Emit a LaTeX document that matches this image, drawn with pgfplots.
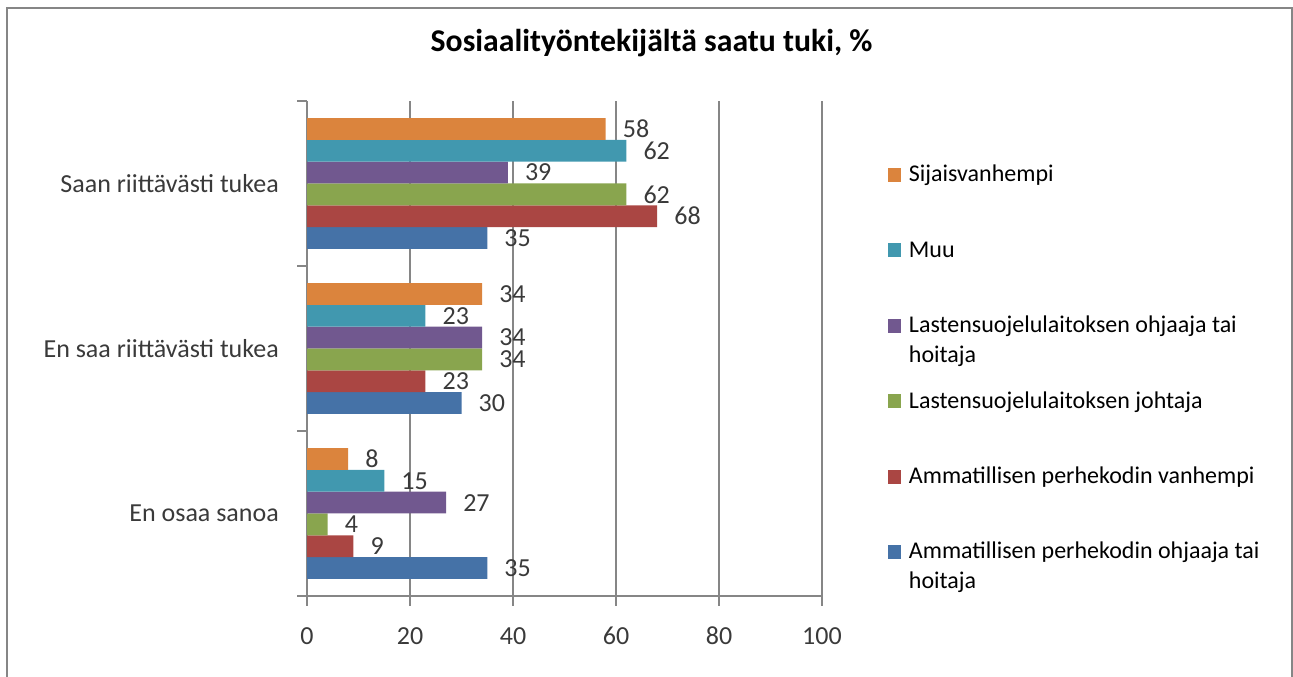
\documentclass[border=0pt]{standalone}
\usepackage{fontspec}
\setmainfont{Carlito}
\usepackage{pgfplots}
\pgfplotsset{compat=1.18}
\definecolor{cBlue}{HTML}{4572A7}
\definecolor{cRed}{HTML}{AA4643}
\definecolor{cGreen}{HTML}{89A54E}
\definecolor{cPurple}{HTML}{71588F}
\definecolor{cAqua}{HTML}{4198AF}
\definecolor{cOrange}{HTML}{DB843D}
\definecolor{axgray}{HTML}{868686}
\definecolor{labgray}{HTML}{3A3A3A}
\begin{document}
\begin{tikzpicture}[x=1pt,y=1pt]
\path[use as bounding box] (0,0) rectangle (1293,677);
\draw[color=axgray, line width=2pt] (7,-10) rectangle (1292,669);
\begin{axis}[
  at={(307pt,81pt)}, anchor=south west,
  scale only axis, width=515pt, height=495pt,
  xmin=0, xmax=100, ymin=-0.5, ymax=2.5,
  xbar, bar width=0.132,
  axis lines=left,
  axis line style={-, draw=axgray, line width=1.3pt},
  xtick={0,20,...,100},
  xmajorgrids, grid style={draw=axgray, line width=1.3pt},
  ytick={-0.5,0.5,1.5,2.5}, yticklabels={},
  extra y ticks={0,1,2},
  extra y tick labels={En osaa sanoa, En saa riittävästi tukea, Saan riittävästi tukea},
  extra y tick style={tick style={draw=none}, yticklabel style={inner sep=0pt, xshift=-18pt}},
  tick align=outside, major tick length=10pt,
  tick style={draw=axgray, line width=1.3pt},
  /pgf/number format/assume math mode=true,
  ticklabel style={font=\fontsize{26}{31}\selectfont, text=labgray},
  xticklabel style={inner sep=0pt, anchor=north, yshift=-21pt},
  point meta=x,
  nodes near coords,
  every node near coord/.append style={anchor=west, inner sep=0pt, xshift=17pt,
    font=\fontsize{26}{31}\selectfont, text=labgray},
  title={Sosiaalityöntekijältä saatu tuki, \%},
  title style={at={(0.669,1.0869)}, anchor=base, inner sep=0pt,
    font=\bfseries\fontsize{31.7}{38}\selectfont},
  reverse legend,
  legend style={at={(1.128,0.8768)}, anchor=north west, draw=none, fill=none,
    inner sep=0pt, outer sep=0pt, row sep=55.4pt, column sep=8pt,
    font=\fontsize{24}{30}\selectfont,
    cells={anchor=base west},
    nodes={inner sep=0pt, text height=20pt, text depth=0pt}},
  legend image code/.code={\fill[#1] (0pt,0pt) rectangle (13pt,14pt);},
]
\addplot[fill=cBlue, draw=none, bar shift=-0.33] coordinates {(35,2) (30,1) (35,0)};
\addlegendentry{\parbox[t]{400pt}{Ammatillisen perhekodin ohjaaja tai\\hoitaja}}
\addplot[fill=cRed, draw=none, bar shift=-0.198] coordinates {(68,2) (23,1) (9,0)};
\addlegendentry{Ammatillisen perhekodin vanhempi}
\addplot[fill=cGreen, draw=none, bar shift=-0.066] coordinates {(62,2) (34,1) (4,0)};
\addlegendentry{Lastensuojelulaitoksen johtaja}
\addplot[fill=cPurple, draw=none, bar shift=0.066] coordinates {(39,2) (34,1) (27,0)};
\addlegendentry{\parbox[t]{400pt}{Lastensuojelulaitoksen ohjaaja tai\\hoitaja}}
\addplot[fill=cAqua, draw=none, bar shift=0.198] coordinates {(62,2) (23,1) (15,0)};
\addlegendentry{Muu}
\addplot[fill=cOrange, draw=none, bar shift=0.33] coordinates {(58,2) (34,1) (8,0)};
\addlegendentry{Sijaisvanhempi}
\end{axis}
\end{tikzpicture}
\end{document}
